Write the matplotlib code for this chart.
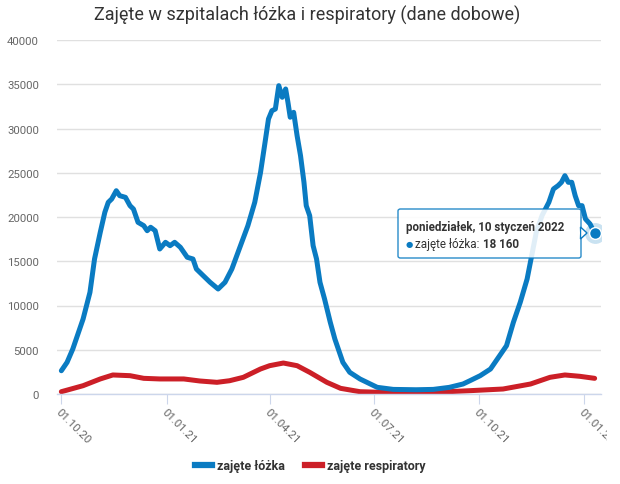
import matplotlib
matplotlib.use("Agg")
import matplotlib.pyplot as plt
import pandas as pd
from matplotlib.patches import FancyBboxPatch, Polygon
from matplotlib.lines import Line2D
from matplotlib.transforms import Bbox, TransformedBbox

plt.rcParams['font.family'] = ['Roboto', 'DejaVu Sans']

title = "Zajęte w szpitalach łóżka i respiratory (dane dobowe)"
series_names = ["zajęte łóżka", "zajęte respiratory"]

beds_dates = ["2020-10-01", "2020-10-06", "2020-10-11", "2020-10-20", "2020-10-26", "2020-10-30",
              "2020-11-04", "2020-11-08", "2020-11-11", "2020-11-14", "2020-11-18", "2020-11-21",
              "2020-11-26", "2020-11-30", "2020-12-03", "2020-12-07", "2020-12-12", "2020-12-15",
              "2020-12-18", "2020-12-22", "2020-12-26", "2020-12-31", "2021-01-04", "2021-01-08",
              "2021-01-13", "2021-01-19", "2021-01-24", "2021-01-27", "2021-02-02", "2021-02-08",
              "2021-02-15", "2021-02-21", "2021-02-27", "2021-03-06", "2021-03-13", "2021-03-19",
              "2021-03-24", "2021-03-28", "2021-03-31", "2021-04-03", "2021-04-06", "2021-04-09",
              "2021-04-12", "2021-04-15", "2021-04-17", "2021-04-19", "2021-04-22", "2021-04-25",
              "2021-04-28", "2021-05-01", "2021-05-03", "2021-05-06", "2021-05-09", "2021-05-12",
              "2021-05-15", "2021-05-19", "2021-05-24", "2021-05-28", "2021-06-02", "2021-06-04",
              "2021-06-10", "2021-06-19", "2021-06-28", "2021-07-04", "2021-07-18", "2021-08-07",
              "2021-08-22", "2021-09-05", "2021-09-17", "2021-09-23", "2021-10-02", "2021-10-11",
              "2021-10-19", "2021-10-25", "2021-10-31", "2021-11-06", "2021-11-12", "2021-11-16",
              "2021-11-20", "2021-11-25", "2021-12-01", "2021-12-05", "2021-12-09", "2021-12-12",
              "2021-12-15", "2021-12-18", "2021-12-21", "2021-12-24", "2021-12-27", "2021-12-30",
              "2022-01-02", "2022-01-06", "2022-01-10"]
beds_values = [2630, 3580, 5085, 8475, 11490, 15255,
               18270, 20530, 21660, 22035, 22970, 22410,
               22220, 21280, 20900, 19400, 19020, 18450,
               18840, 18450, 16385, 17140, 16760, 17140,
               16575, 15450, 15255, 14125, 13370, 12620,
               11865, 12620, 14125, 16575, 19020, 21660,
               25000, 28440, 31075, 32015, 32200, 34840,
               33525, 34465, 32960, 31270, 31830, 29190,
               26930, 23920, 21280, 20150, 16760, 15255,
               12620, 10735, 8100, 6215, 4330, 3580,
               2450, 1695, 1130, 755, 520, 480,
               520, 750, 1130, 1500, 2070, 2825,
               4330, 5460, 8100, 10360, 12995, 15630,
               18270, 20150, 21660, 23165, 23540, 23920,
               24670, 23920, 23920, 22410, 21280, 21280,
               19775, 19210, 18160]

resp_dates = ["2020-10-01", "2020-10-20", "2020-11-04", "2020-11-15", "2020-11-30", "2020-12-12",
              "2020-12-26", "2021-01-16", "2021-01-30", "2021-02-14", "2021-02-25", "2021-03-09",
              "2021-03-18", "2021-03-24", "2021-04-01", "2021-04-13", "2021-04-25", "2021-05-06",
              "2021-05-21", "2021-06-02", "2021-06-19", "2021-07-18", "2021-08-17", "2021-09-23",
              "2021-10-22", "2021-11-15", "2021-12-02", "2021-12-15", "2021-12-28", "2022-01-10"]
resp_values = [260, 940, 1700, 2150, 2070, 1770,
               1700, 1700, 1470, 1320, 1500, 1885,
               2450, 2825, 3200, 3500, 3200, 2450,
               1320, 640, 260, 150, 150, 375,
               565, 1130, 1885, 2150, 2000, 1770]

tick_dates = ["2020-10-01", "2021-01-01", "2021-04-01", "2021-07-01", "2021-10-01", "2022-01-01"]
tick_labels = ["01.10.20", "01.01.21", "01.04.21", "01.07.21", "01.10.21", "01.01.22"]
y_ticks = [0, 5000, 10000, 15000, 20000, 25000, 30000, 35000, 40000]

tooltip_title = "poniedziałek, 10 styczeń 2022"
tooltip_value = "18 160"

BLUE = "#0a7bc2"
RED = "#cc1f27"

W, H = 620, 485
fig = plt.figure(figsize=(W / 100, H / 100), dpi=100)
ax = fig.add_axes([57 / W, 1 - 395 / H, (600.7 - 57) / W, (395 - 41) / H])

bd = pd.to_datetime(beds_dates)
rd = pd.to_datetime(resp_dates)
ax.plot(bd, beds_values, color=BLUE, lw=3.6, solid_joinstyle='round', solid_capstyle='round', zorder=3)
ax.plot(rd, resp_values, color=RED, lw=3.6, solid_joinstyle='round', solid_capstyle='round', zorder=2)

x0 = pd.Timestamp("2020-10-01") - pd.Timedelta(days=3.8)
x1 = pd.Timestamp("2022-01-01") + pd.Timedelta(days=14.3)
ax.set_xlim(x0, x1)
ax.set_ylim(0, 40000)

ax.set_yticks(y_ticks)
ax.set_yticklabels([str(v) for v in y_ticks])
ax.grid(axis='y', color='#e0e0e0', lw=1)
ax.set_axisbelow(True)
for s in ['left', 'right', 'top']:
    ax.spines[s].set_visible(False)
ax.spines['bottom'].set_color('#ccd6eb')
ax.spines['bottom'].set_linewidth(1)
ax.tick_params(axis='y', length=0, labelsize=8.2, labelcolor='#666666', pad=13)

ax.set_xticks(pd.to_datetime(tick_dates))
ax.set_xticklabels(tick_labels, rotation=-45, ha='left', va='top', rotation_mode='anchor')
ax.tick_params(axis='x', length=7, color='#ccd6eb', labelsize=8.2, labelcolor='#666666', pad=2)
clipbox = TransformedBbox(Bbox([[0, 0], [607 / W, 1]]), fig.transFigure)
for lab in ax.get_xticklabels():
    lab.set_clip_on(True)
    lab.set_clip_box(clipbox)

fig.text(307 / W, 1 - 15 / H, title, ha='center', va='center', fontsize=13.0, color='#333333')

# marker for tooltip point
ax.plot(bd[-1], beds_values[-1], 'o', ms=15, color=BLUE, alpha=0.22, mec='none', zorder=5)
ax.plot(bd[-1], beds_values[-1], 'o', ms=8.5, color=BLUE, mec='white', mew=1, zorder=6)

# tooltip box
tb = FancyBboxPatch((398 / W, 1 - 259 / H), (581 - 398) / W, (259 - 210) / H,
                    boxstyle="round,pad=0,rounding_size=0.004", transform=fig.transFigure,
                    facecolor='white', edgecolor=BLUE, lw=1, alpha=0.88, zorder=10)
fig.add_artist(tb)
tri = Polygon([(580.5 / W, 1 - 228 / H), (587 / W, 1 - 234 / H), (580.5 / W, 1 - 240 / H)],
              closed=True, transform=fig.transFigure, facecolor='white', edgecolor=BLUE,
              lw=1, zorder=10)
fig.add_artist(tri)
fig.add_artist(Polygon([(580 / W, 1 - 228.5 / H), (580 / W, 1 - 239.5 / H), (579 / W, 1 - 234 / H)],
                       closed=True, transform=fig.transFigure, facecolor='white', edgecolor='none', zorder=11))

fig.text(406 / W, 1 - 227 / H, tooltip_title, ha='left', va='center', fontsize=8.4,
         fontweight='bold', color='#333333', zorder=12)
fig.text(406 / W, 1 - 245 / H, "●", ha='left', va='center', fontsize=6, color=BLUE, zorder=12)
t2 = fig.text(415 / W, 1 - 245 / H, series_names[0] + ":", ha='left', va='center', fontsize=8.4,
              color='#333333', zorder=12)
fig.canvas.draw()
bb = t2.get_window_extent()
fig.text((bb.x1 + 4) / W, 1 - 245 / H, tooltip_value, ha='left', va='center', fontsize=8.4,
         fontweight='bold', color='#333333', zorder=12)

# legend
handles = [Line2D([], [], color=BLUE, lw=4.5), Line2D([], [], color=RED, lw=4.5)]
fig.legend(handles, series_names, loc='center', bbox_to_anchor=(310 / W, 1 - 467 / H), ncol=2,
           frameon=False, handlelength=1.4, handletextpad=0.35, columnspacing=1.6,
           prop={'family': ['Roboto', 'DejaVu Sans'], 'weight': 'bold', 'size': 9},
           labelcolor='#333333')

fig.savefig("out.png", dpi=100)
